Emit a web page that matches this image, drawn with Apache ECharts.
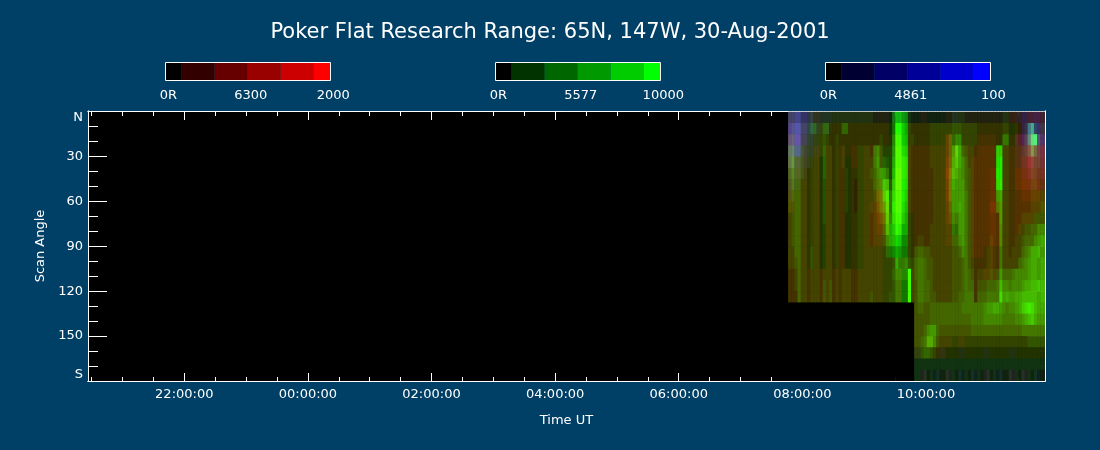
<!DOCTYPE html>
<html><head><meta charset="utf-8">
<style>html,body{margin:0;padding:0;background:#004066}#c{width:1100px;height:450px}</style>
<script src="https://cdn.jsdelivr.net/npm/echarts@6/dist/echarts.min.js"></script>
</head><body><div id="c"></div>
<script>
const titleText = 'Poker Flat Research Range: 65N, 147W, 30-Aug-2001';
const xMajor = [22,24,26,28,30,32,34];
const xMajorLabels = ['22:00:00','00:00:00','02:00:00','04:00:00','06:00:00','08:00:00','10:00:00'];
const xMinor = [20.5,21,21.5,22.5,23,23.5,24.5,25,25.5,26.5,27,27.5,28.5,29,29.5,30.5,31,31.5,32.5,33,33.5,34.5,35,35.5];
const yMajor = [30,60,90,120,150];
const yMinor = [10,20,40,50,70,80,100,110,130,140,160,170];
const yLabelValues = [-0.5,30,60,90,120,150,180];
const yLabels = ['N','30','60','90','120','150','S'];
const barSteps = [0.5,1,1,1,1,0.5];
const barLabelSpots = [0.1,2.6,5.1];
const redBar = ['#000000','#330000','#660000','#990000','#cc0000','#ff0000'];
const greenBar = ['#000000','#003300','#006600','#009900','#00cc00','#00ff00'];
const blueBar = ['#000000','#000033','#000066','#000099','#0000cc','#0000ff'];
const redBarLabels = ['0R','6300','2000'];
const greenBarLabels = ['0R','5577','10000'];
const blueBarLabels = ['0R','4861','100'];
const scanStart = 31.769, scanStep = 0.051, rowStep = 7.5;
// brightness per scan cell, one hex digit per half column (82), one string per 7.5 degree row
const green = [
"4444333433 3333333333 3333333222 2227bb9832 2222222222 2233332222 2222222233 2222222222 22",
"4555444664 4663333663 3333333333 3337ffca43 3333344444 4455544444 3333333344 3332237a43 33",
"5655444444 4543343333 3333333334 3338ffcb44 3333344444 4668844444 3333333377 3332248de5 33",
"7866544444 4644343433 3344443785 4449ffdc43 3333344444 469da65443 333333cc44 3333345964 33",
"7966544444 3644343433 3344444795 654affed43 3333344444 46aca86443 333333de44 3333333444 33",
"6866543444 3644343343 3344445689 974bffed43 3333334444 47ba986543 333333ee44 3333333443 33",
"5766443444 3544343343 3244444678 cb5cffed43 3333334444 47a9996543 333333de44 3333333443 33",
"5666443444 3544343343 3244444567 ce7dffec43 3333334444 4799997543 3333339a44 3333333444 44",
"5566443444 3544343343 3244444457 9d7effdb43 3333334444 4699a97543 3333337944 3333333444 55",
"4566443444 3544343333 3344443445 7c8dffca43 3333334444 4587997543 3333333944 3333444455 55",
"4566443444 3444343333 3344443444 6bacfeaa43 3333344444 4476997543 3333333844 3334455668 88",
"4566443444 3444343333 3344443444 58abdc8843 3443344444 4466897543 3333433844 3344566689 aa",
"4466443544 3444343333 3344444444 4678a97743 5665544444 4455687543 3334433744 3444678aab 99",
"4456443544 3444343333 3344444444 4445a77854 6776554444 4455567543 3334433744 4446789aa9 aa",
"3346443444 3444343444 3344444444 44468888f4 6776554444 4455567653 4444545966 6788889aa9 aa",
"3346443444 3545343444 3344444444 44457777f4 5776654444 4455567663 5556667b88 78889aabbc bb",
"3336443444 3545343444 3344445444 44557777f4 5776655444 4455667773 6667777d9a 99aabbbbba bb",
"0000000000 0000000000 0000000000 0000000000 5665566666 6666677777 77899aa987 889acdedba aa",
"0000000000 0000000000 0000000000 0000000000 5555566666 6666666677 7788888877 77889abca9 99",
"0000000000 0000000000 0000000000 0000000000 5556899655 5555555566 6666666666 6666777777 77",
"0000000000 0000000000 0000000000 0000000000 5567aa8544 4444444444 4444444444 4444445555 55",
"0000000000 0000000000 0000000000 0000000000 4456654333 3333333333 3333333333 3333333333 33",
"0000000000 0000000000 0000000000 0000000000 3333333333 3333333333 3333333333 3333333333 33",
"0000000000 0000000000 0000000000 0000000000 3323232322 3232323232 3223232322 3232323232 22"
];
// red and blue are read at the coarser full column (41)
const red = [
"4433322222 2222221111 1211122222 2222233344 4",
"5543333333 3333331213 3333333333 3333323343 4",
"6643333333 3333332413 3333363333 4443335565 5",
"6543434343 4344422524 4444465444 5553445687 7",
"6543424342 4344422534 4444475445 5552445797 7",
"5543424342 3344432634 4444485445 5562446787 7",
"5443424342 3344543624 4444474445 5563446777 6",
"5443424342 3344753524 4444474445 5564445666 5",
"5443424342 3345763524 4444464445 5575445555 5",
"4443424342 3345763423 4444464445 5565445554 4",
"4443424342 3345652313 4444453445 5565445444 4",
"4443424342 3345542113 4444454445 5565444444 4",
"4443424342 3344431113 4444444445 5454444444 4",
"4443424342 3344433333 4444444444 4454444444 4",
"4444444444 4444433424 4444444444 4554444444 4",
"4444444444 4444433414 4444444444 4444444444 4",
"4444444444 4444433414 4444444444 4444444444 4",
"0000000000 0000000000 4444444444 4444444444 4",
"0000000000 0000000000 4444444444 4444444444 4",
"0000000000 0000000000 4444444444 4444444444 4",
"0000000000 0000000000 4454443433 3333333333 3",
"0000000000 0000000000 3333322222 2222222222 2",
"0000000000 0000000000 1111111111 1111111111 1",
"0000000000 0000000000 1211121111 1211121211 1"
];
const blue = [
"6864222111 1111111111 1111112111 1111112434 3",
"8a64211000 0000000000 0000000000 0000000486 4",
"7a53100000 0000000000 0000000000 0000002577 6",
"6832100000 0000000000 0000000000 0000001344 4",
"4321000000 0000000000 0000000000 0000001233 3",
"2210000000 0000000000 0000000000 0000000122 2",
"2100000000 0000000000 0000000000 0000000011 1",
"1000000000 0000000000 0000000000 0000000000 0",
"0000000000 0000000000 0000000000 0000000000 0",
"0000000000 0000000000 0000000000 0000000000 0",
"0000000000 0000000000 0000000000 0000000000 0",
"0000000000 0000000000 0000000000 0000000000 0",
"0000000000 0000000000 0000000000 0000000000 0",
"0000000000 0000000000 0000000000 0000000000 0",
"0000000000 0000000000 0000000000 0000000000 0",
"0000000000 0000000000 0000000000 0000000000 0",
"0000000000 0000000000 0000000000 0000000000 0",
"0000000000 0000000000 0000000000 0000000000 0",
"0000000000 0000000000 0000000000 0000000000 0",
"0000000000 0000000000 0000000000 0000000000 0",
"0000000000 0000000000 0000000000 0000000000 0",
"0000000000 0000000000 1000100100 0100010000 0",
"0000000000 0000000000 1111111111 1111111111 1",
"0000000000 0000000000 1212121212 1212121212 1"
];

const WHITE = '#ffffff', FONT = 'DejaVu Sans';
const digit = (rows, r, c) => parseInt(rows[r].replace(/ /g,'')[c] || '0', 16) * 17;
const cells = [];
green.forEach((_, r) => {
  for (let h = 0; h < 82; h++) {
    const c = Math.floor(h/2);
    cells.push([scanStart + h*scanStep, scanStart + (h+1)*scanStep, r*rowStep, (r+1)*rowStep,
      digit(red,r,c), digit(green,r,h), digit(blue,r,c)]);
  }
});
const lineStyle = {show:true, onZero:false, lineStyle:{color:WHITE, width:1}};
const xAx = (position, values, len, labels) => ({
  type:'value', gridIndex:0, position, min:20.442, max:35.926, splitLine:{show:false}, axisLine:lineStyle,
  axisTick:{show:true, inside:true, length:len, customValues:values, lineStyle:{color:WHITE,width:1}},
  axisLabel: labels ? {show:true, customValues:values, color:WHITE, fontFamily:FONT, fontSize:13, margin:7,
    formatter:(v,i)=>labels[xMajor.indexOf(v)]} : {show:false}
});
const yAx = (position, values, len, labels) => ({
  type:'value', gridIndex:0, position, inverse:true, min:-0.5, max:180, splitLine:{show:false}, axisLine:lineStyle,
  axisTick:{show:true, inside:true, length:len, customValues:values, lineStyle:{color:WHITE,width:1}},
  axisLabel: labels ? {show:true, customValues:yLabelValues, color:WHITE, fontFamily:FONT, fontSize:13, margin:5,
    verticalAlignMinLabel:'top', verticalAlignMaxLabel:'bottom',
    formatter:(v)=>labels[yLabelValues.indexOf(v)]} : {show:false}
});
const xAxes = [
  Object.assign(xAx('bottom',xMajor,8,xMajorLabels),{name:'Time UT',nameLocation:'middle',nameGap:33,nameTextStyle:{color:WHITE,fontFamily:FONT,fontSize:13}}),
  xAx('bottom',xMinor,4), xAx('top',xMajor,9), xAx('top',xMinor,5)
];
const yAxes = [
  Object.assign(yAx('left',yMajor,19,yLabels),{name:'Scan Angle',nameLocation:'middle',nameGap:35,nameTextStyle:{color:WHITE,fontFamily:FONT,fontSize:13}}),
  yAx('left',yMinor,10), yAx('right',yMajor,19), yAx('right',yMinor,10)
];
const grids = [{left:88,width:957,top:111,height:270,show:true,backgroundColor:'#000000',borderWidth:0}];
const series = [{
  type:'custom', xAxisIndex:0, yAxisIndex:0, clip:true, silent:true, animation:false, data:cells,
  encode:{x:[0,1],y:[2,3]},
  renderItem(p, api){
    const a = api.coord([api.value(0),api.value(2)]), b = api.coord([api.value(1),api.value(3)]);
    return {type:'rect', shape:{x:a[0],y:a[1],width:b[0]-a[0]+0.5,height:b[1]-a[1]+0.5},
      style:{fill:`rgb(${api.value(4)},${api.value(5)},${api.value(6)})`}};
  }
}];
[[165,redBar,redBarLabels],[495,greenBar,greenBarLabels],[825,blueBar,blueBarLabels]].forEach(([left,cols,labs],i)=>{
  const g = i+1;
  grids.push({left,width:33*5.2,top:62,height:18});
  xAxes.push({type:'value',gridIndex:g,min:0,max:5.2,splitLine:{show:false},axisLine:{show:false},axisTick:{show:false},
    axisLabel:{show:true,customValues:barLabelSpots,color:WHITE,fontFamily:FONT,fontSize:13,margin:9,hideOverlap:false,
      formatter:(v)=>labs[barLabelSpots.indexOf(v)]}});
  yAxes.push({type:'value',gridIndex:g,min:0,max:1,show:false});
  let s = 0; const d = cols.map((c,k)=>{const row=[s,s+barSteps[k],k]; s+=barSteps[k]; return row;});
  d.push([0,5,-1]);
  series.push({type:'custom',xAxisIndex:xAxes.length-1,yAxisIndex:yAxes.length-1,silent:true,animation:false,clip:false,data:d,
    encode:{x:[0,1]},
    renderItem(p,api){
      const a=api.coord([api.value(0),1]), b=api.coord([api.value(1),0]), k=api.value(2);
      if(k<0) return {type:'rect',z2:5,shape:{x:Math.round(a[0])+.5,y:a[1]+.5,width:Math.round(b[0]-a[0]),height:b[1]-a[1]},style:{fill:null,stroke:WHITE,lineWidth:1}};
      return {type:'rect',shape:{x:a[0],y:a[1],width:b[0]-a[0],height:b[1]-a[1]},style:{fill:cols[k]}};
    }});
});
const chart = echarts.init(document.getElementById('c'),null,{renderer:'canvas'});
chart.setOption({
  backgroundColor:'#004066', animation:false,
  title:{text:titleText,left:'center',top:22,padding:0,textStyle:{color:WHITE,fontFamily:'DejaVu Sans',fontSize:21,fontWeight:'normal'}},
  grid:grids, xAxis:xAxes, yAxis:yAxes, series
});
</script></body></html>
